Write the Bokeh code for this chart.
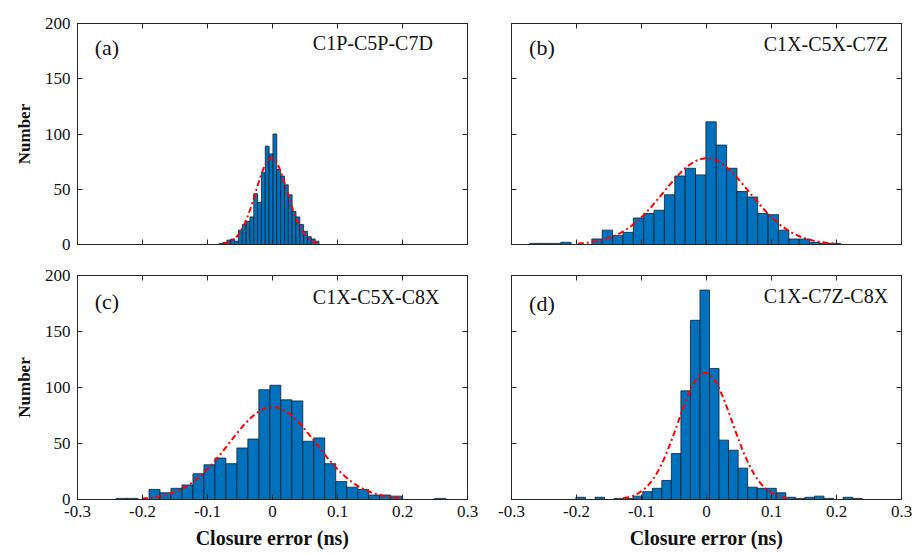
import numpy as np
from bokeh.plotting import figure
from bokeh.layouts import row, column
from bokeh.models import (FixedTicker, LinearAxis, Label, CustomJSTickFormatter,
                          Range1d, ColumnDataSource)
from bokeh.embed import file_html
from bokeh.resources import INLINE

# ---------------- data ----------------
x_ticks = [-0.3, -0.2, -0.1, 0.0, 0.1, 0.2, 0.3]
x_tick_labels = ["-0.3", "-0.2", "-0.1", "0", "0.1", "0.2", "0.3"]
y_ticks = [0, 50, 100, 150, 200]
y_tick_labels = ["0", "50", "100", "150", "200"]

panel_tags = ["(a)", "(b)", "(c)", "(d)"]
panel_names = ["C1P-C5P-C7D", "C1X-C5X-C7Z", "C1X-C5X-C8X", "C1X-C7Z-C8X"]

x_label = "Closure error (ns)"
y_label = "Number"

# histogram of each panel: first bin edge (ns), bin width (ns), counts
a_start, a_width = -0.0819, 0.0059
a_counts = [1, 2, 4, 5, 3, 13, 18, 21, 25, 46, 38, 65, 89, 82, 100,
            68, 62, 54, 45, 30, 25, 18, 12, 7, 5, 3]

b_start, b_width = -0.2721, 0.01595
b_counts = [1, 1, 1, 2, 0, 0, 5, 13, 8, 11, 24, 28, 31, 45, 62, 69, 63,
            111, 90, 69, 48, 43, 28, 27, 13, 5, 5, 2, 1, 1]

c_start, c_width = -0.2407, 0.0169
c_counts = [1, 1, 0, 9, 6, 10, 13, 23, 31, 37, 32, 46, 54, 98, 102,
            89, 88, 52, 55, 32, 16, 11, 9, 4, 4, 3, 0, 0, 0, 1]

d_start, d_width = -0.2009, 0.01468
d_counts = [2, 0, 2, 0, 1, 1, 3, 7, 10, 17, 41, 97, 160, 187, 117,
            53, 44, 28, 11, 10, 10, 6, 2, 1, 2, 3, 1, 0, 2, 1]

# normal fit of each panel (mean, sigma, peak height)
fit_mu = [-0.0015, 0.0, 0.0, -0.002]
fit_sigma = [0.0245, 0.066, 0.067, 0.042]
fit_peak = [78, 78, 82.5, 113]

hists = [(a_start, a_width, a_counts), (b_start, b_width, b_counts),
         (c_start, c_width, c_counts), (d_start, d_width, d_counts)]

# annotation placement (data coords)
tag_pos = [(-0.2736, 178), (-0.273, 178), (-0.2736, 176.5), (-0.273, 175)]
name_pos = [(0.062, 182.5), (0.088, 181), (0.062, 180.5), (0.088, 182)]

# ---------------- style ----------------
FONT = "Liberation Serif"
AX = "#262626"
TXT = "#111111"
BAR = "#0072BD"

fmt_code = """
let best = -1, bd = 1e9;
for (let i = 0; i < tv.length; i++) { const d = Math.abs(tv[i] - tick); if (d < bd) { bd = d; best = i; } }
return (best >= 0 && bd < 1e-6) ? tl[best] : "";
"""


def make_axis(tick_vals, tick_labs, show_labels, label=None, label_size="17px",
              tick_standoff=6, label_standoff=8):
    ax = LinearAxis()
    ax.ticker = FixedTicker(ticks=tick_vals)
    ax.formatter = CustomJSTickFormatter(args=dict(tv=tick_vals, tl=tick_labs), code=fmt_code)
    ax.major_tick_in = 5
    ax.major_tick_out = 0
    ax.minor_tick_line_color = None
    ax.axis_line_color = AX
    ax.axis_line_width = 1
    ax.major_tick_line_color = AX
    ax.major_tick_line_width = 1
    if show_labels:
        ax.major_label_text_font = FONT
        ax.major_label_text_font_size = "17px"
        ax.major_label_text_color = TXT
        ax.major_label_standoff = tick_standoff
    else:
        ax.major_label_text_color = None
        ax.major_label_text_font_size = "0px"
        ax.major_label_standoff = 0
    if label is not None:
        ax.axis_label = label
        ax.axis_label_text_font = FONT
        ax.axis_label_text_font_size = label_size
        ax.axis_label_text_font_style = "bold"
        ax.axis_label_text_color = TXT
        ax.axis_label_standoff = label_standoff
    return ax


def make_panel(idx, width, height, mbl, mbr, mbt, mbb, left_labels, bottom_labels):
    p = figure(width=width, height=height,
               x_range=Range1d(-0.3, 0.3), y_range=Range1d(0, 200),
               output_backend="svg", toolbar_location=None,
               x_axis_location=None, y_axis_location=None,
               min_border_left=mbl, min_border_right=mbr,
               min_border_top=mbt, min_border_bottom=mbb)
    p.xgrid.visible = False
    p.ygrid.visible = False
    p.outline_line_color = AX
    p.outline_line_width = 1
    p.background_fill_color = "white"
    p.border_fill_color = "white"

    start, w, counts = hists[idx]
    counts = np.array(counts, dtype=float)
    left = start + w * np.arange(len(counts))
    src = ColumnDataSource(dict(left=left, right=left + w, top=counts,
                                bottom=np.zeros(len(counts))))
    p.quad(left="left", right="right", top="top", bottom="bottom", source=src,
           fill_color=BAR, line_color="#14202c", line_width=0.8)

    mu, sg, pk = fit_mu[idx], fit_sigma[idx], fit_peak[idx]
    xs = np.linspace(mu - 3 * sg, mu + 3 * sg, 100)
    ys = pk * np.exp(-0.5 * ((xs - mu) / sg) ** 2)
    p.line(xs, ys, line_color="#ff0000", line_width=2, line_dash="6 3 2 3")

    p.add_layout(make_axis(y_ticks, y_tick_labels, left_labels,
                           y_label if left_labels else None,
                           label_size="17px", tick_standoff=7, label_standoff=8), "left")
    p.add_layout(make_axis(y_ticks, y_tick_labels, False), "right")
    p.add_layout(make_axis(x_ticks, x_tick_labels, bottom_labels,
                           x_label if bottom_labels else None,
                           label_size="20px", tick_standoff=6, label_standoff=7), "below")
    p.add_layout(make_axis(x_ticks, x_tick_labels, False), "above")

    tx, ty = tag_pos[idx]
    p.add_layout(Label(x=tx, y=ty, text=panel_tags[idx], text_font=FONT,
                       text_font_size="22px", text_color=TXT,
                       text_align="left", text_baseline="middle"))
    nx, ny = name_pos[idx]
    p.add_layout(Label(x=nx, y=ny, text=panel_names[idx], text_font=FONT,
                       text_font_size="20px", text_color=TXT,
                       text_align="left", text_baseline="middle"))
    return p


pa = make_panel(0, 490, 260, 77, 23, 23, 16, True, False)
pb = make_panel(1, 423, 260, 21, 12, 23, 16, False, False)
pc = make_panel(2, 490, 293, 77, 23, 15, 54, True, True)
pd = make_panel(3, 423, 293, 21, 12, 15, 54, False, True)

layout = column(row(pa, pb), row(pc, pd))

open("out.html", "w").write(file_html(layout, INLINE))
